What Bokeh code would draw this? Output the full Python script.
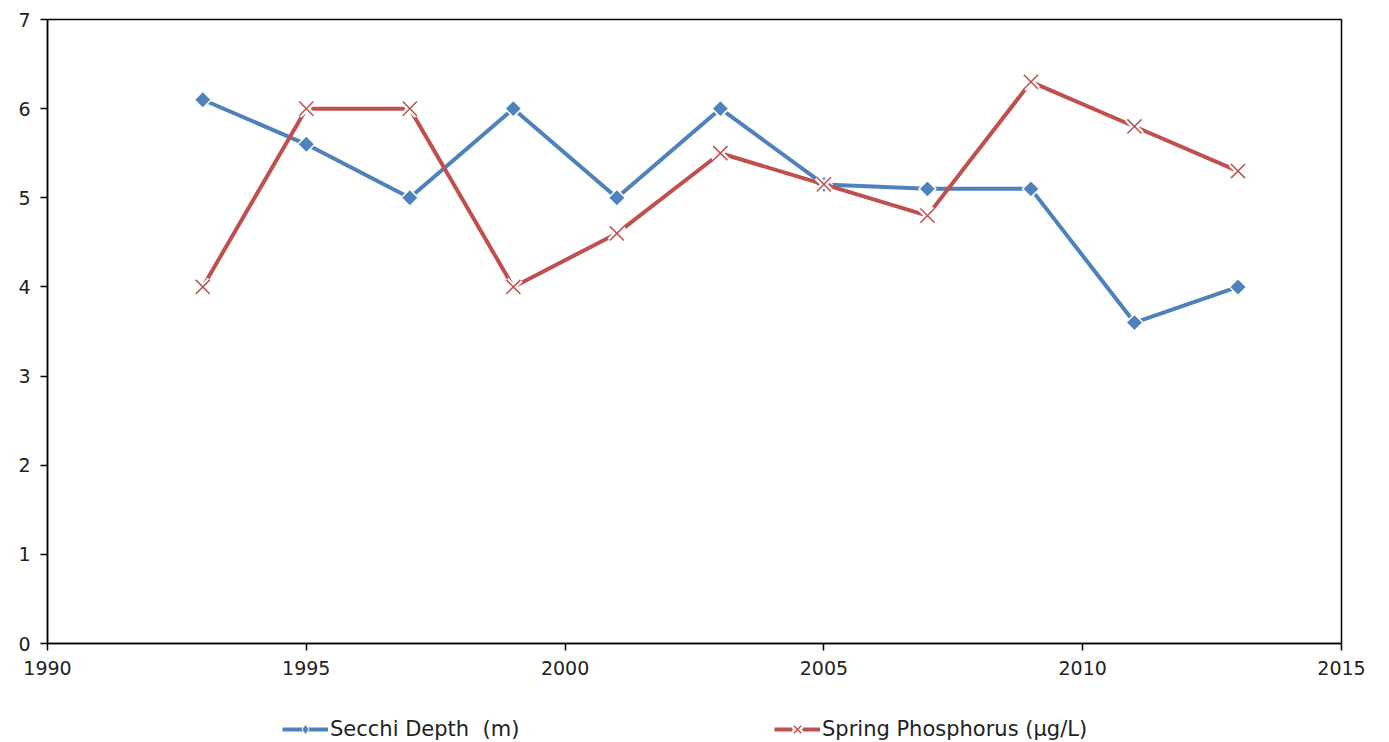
import math
from bokeh.plotting import figure
from bokeh.layouts import column
from bokeh.models import Range1d, FixedTicker, Legend, LegendItem, ColumnDataSource
from bokeh.embed import file_html
from bokeh.resources import INLINE

years = [1993, 1995, 1997, 1999, 2001, 2003, 2005, 2007, 2009, 2011, 2013]
secchi = [6.1, 5.6, 5.0, 6.0, 5.0, 6.0, 5.15, 5.1, 5.1, 3.6, 4.0]
phosphorus = [4.0, 6.0, 6.0, 4.0, 4.6, 5.5, 5.15, 4.8, 6.3, 5.8, 5.3]
x_ticks = [1990, 1995, 2000, 2005, 2010, 2015]
y_ticks = [0, 1, 2, 3, 4, 5, 6, 7]
labels = ["Secchi Depth  (m)", "Spring Phosphorus (µg/L)"]

BLUE = "#4F81BD"
RED = "#C0504D"
FONT = "DejaVu Sans"

src = ColumnDataSource(dict(year=years, secchi=secchi, phos=phosphorus))

p = figure(width=1389, height=692, output_backend="svg", toolbar_location=None,
           x_range=Range1d(1990, 2015), y_range=Range1d(0, 7),
           min_border_left=47, min_border_right=48, min_border_top=19, min_border_bottom=49)
p.xgrid.visible = False
p.ygrid.visible = False
p.outline_line_color = "black"
p.outline_line_width = 1.5
p.background_fill_color = "white"
p.border_fill_color = "white"

for ax, ticks in ((p.xaxis, x_ticks), (p.yaxis, y_ticks)):
    ax.ticker = FixedTicker(ticks=ticks)
    ax.axis_line_color = "black"
    ax.axis_line_width = 1.5
    ax.major_tick_line_color = "black"
    ax.major_tick_line_width = 1.5
    ax.major_tick_out = 7
    ax.major_tick_in = 0
    ax.minor_tick_line_color = None
    ax.major_label_text_font = FONT
    ax.major_label_text_font_size = "19px"
    ax.major_label_text_color = "#222222"
p.xaxis.major_label_standoff = 10
p.yaxis.major_label_standoff = 10


def draw(fig, source, legend_variant=False):
    l1 = fig.line("year", "secchi", source=source, line_color=BLUE, line_width=4)
    if legend_variant:
        d1 = fig.scatter("year", "secchi", source=source, marker="diamond", size=12,
                         fill_color=BLUE, line_color="white", line_width=1)
    else:
        d1 = fig.scatter("year", "secchi", source=source, marker="square", size=12,
                         angle=math.pi / 4, fill_color=BLUE, line_color="white", line_width=1.5)
    l2 = fig.line("year", "phos", source=source, line_color=RED, line_width=4)
    w2 = fig.scatter("year", "phos", source=source, marker="x", size=20,
                     line_color="white", line_width=6)
    d2 = fig.scatter("year", "phos", source=source, marker="x", size=20,
                     line_color=RED, line_width=1.5)
    return [l1, d1], [l2, w2, d2]


draw(p, src)

# legend strip below the chart (its ranges keep the series out of view)
lg = figure(width=1389, height=50, output_backend="svg", toolbar_location=None,
            x_range=Range1d(1990, 2015), y_range=Range1d(100, 101),
            min_border_left=47, min_border_right=48, min_border_top=0, min_border_bottom=0)
lg.axis.visible = False
lg.grid.visible = False
lg.outline_line_color = None
lg.background_fill_color = "white"
lg.border_fill_color = "white"
r1, r2 = draw(lg, src, legend_variant=True)

common = dict(orientation="horizontal", glyph_width=46, glyph_height=26, label_height=26,
              label_text_font=FONT,
              label_text_font_size="21px", label_text_color="#222222",
              border_line_color=None, background_fill_alpha=0,
              margin=0, padding=0, label_standoff=2)
leg1 = Legend(items=[LegendItem(label=labels[0], renderers=r1)], location=(235, 0), **common)
leg2 = Legend(items=[LegendItem(label=labels[1], renderers=r2)], location=(727, 0), **common)
lg.add_layout(leg1)
lg.add_layout(leg2)

open("out.html", "w").write(file_html(column(p, lg, spacing=0), INLINE))
